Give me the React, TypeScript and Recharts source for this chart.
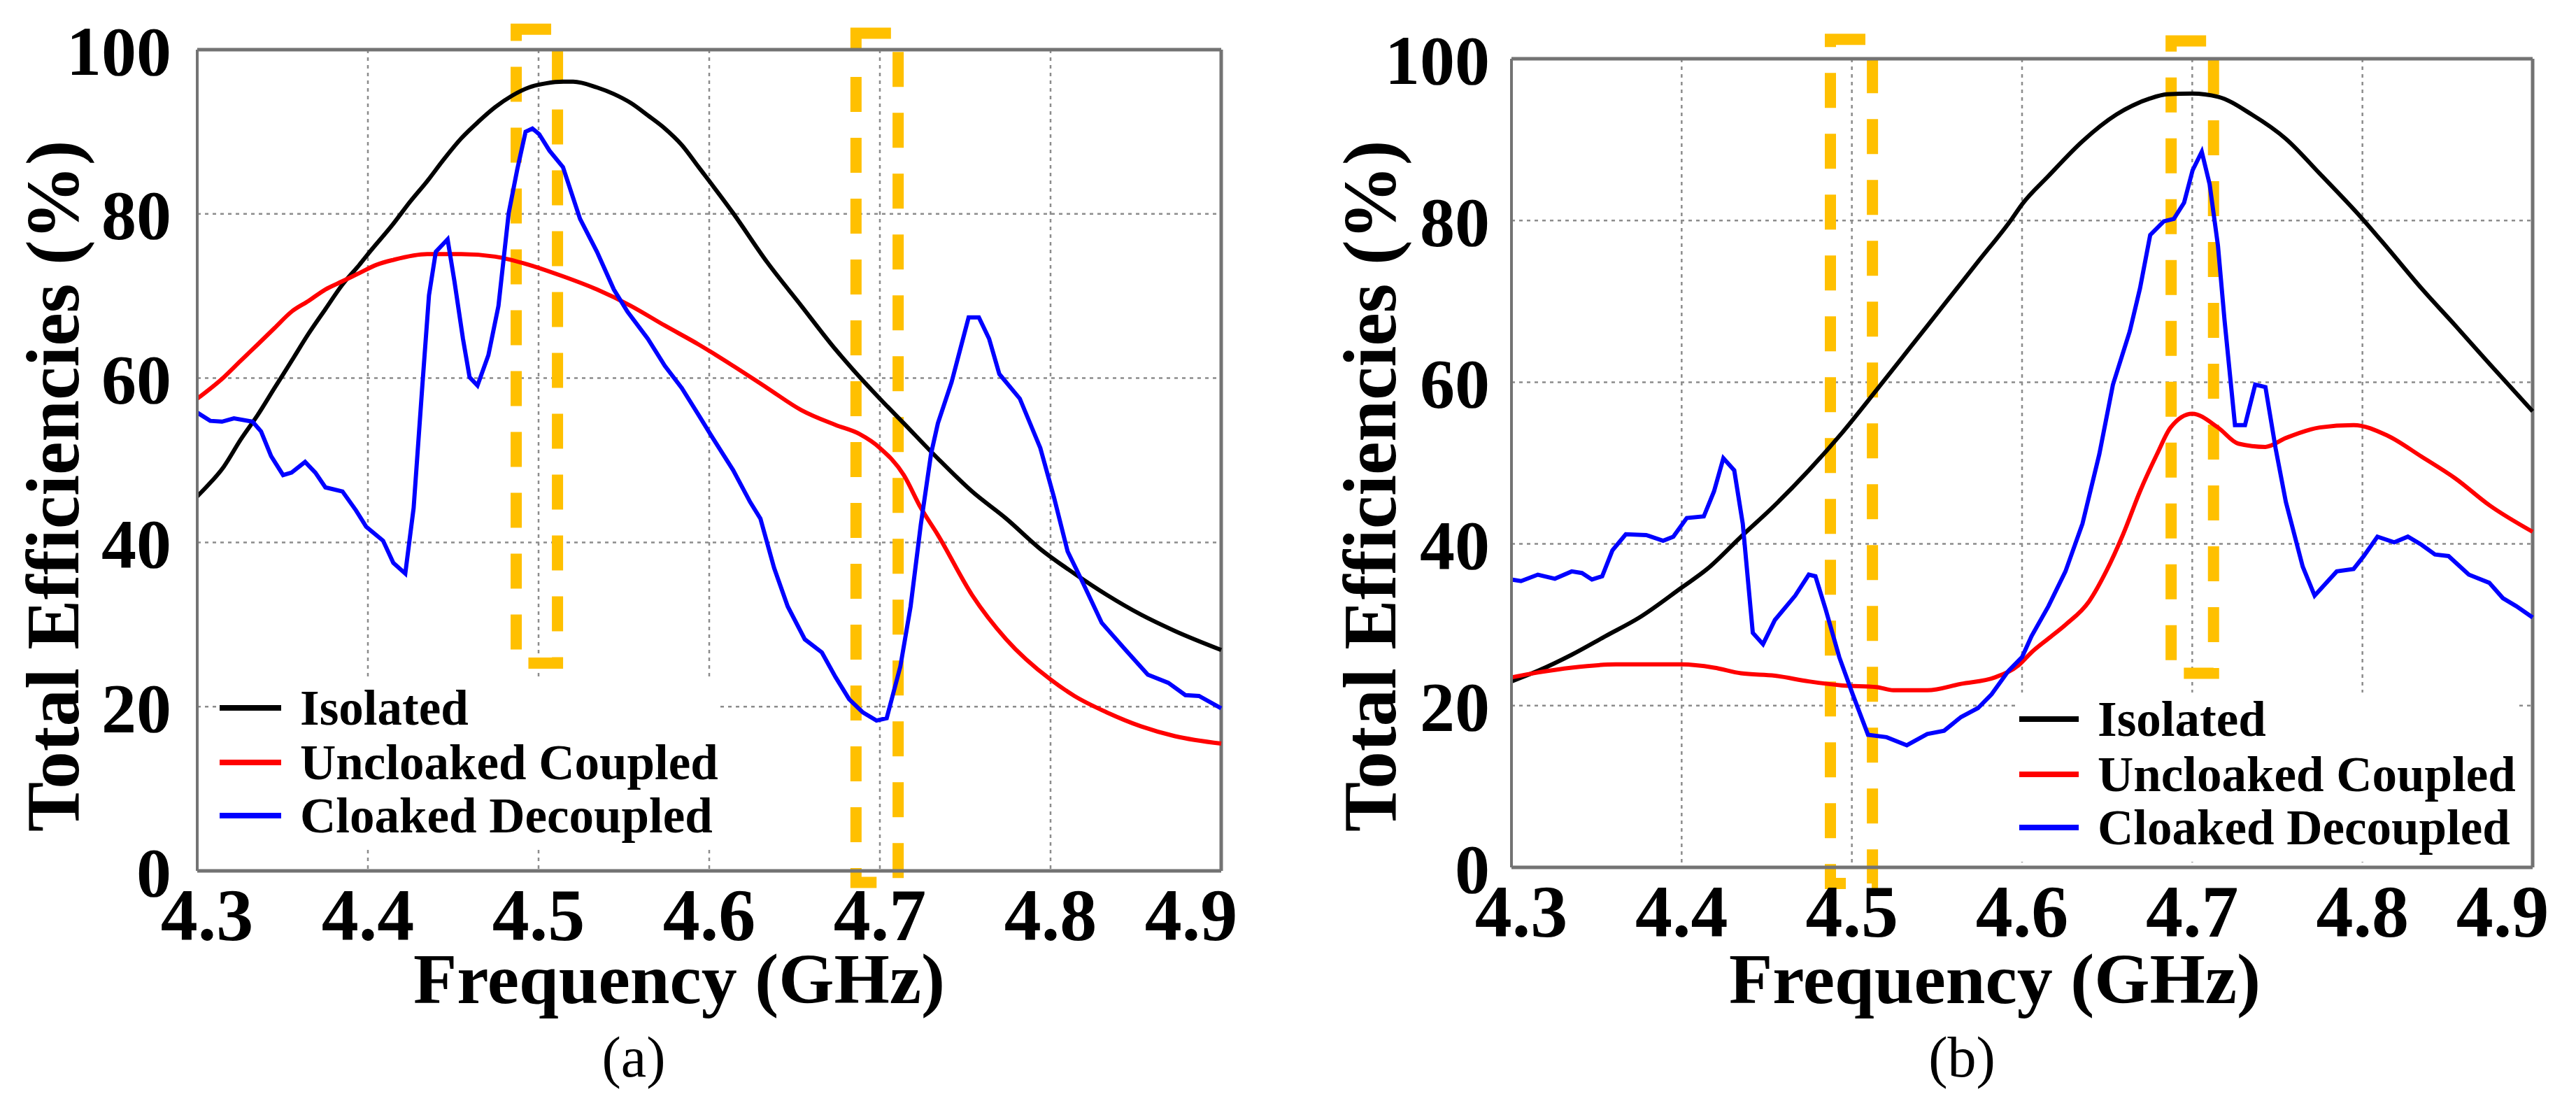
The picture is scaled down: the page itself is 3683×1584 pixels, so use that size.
import React from "react";
import {
  LineChart,
  Line,
  XAxis,
  YAxis,
  CartesianGrid,
  ReferenceArea,
  ReferenceLine,
  Legend,
  Label,
} from "recharts";

const SERIF = '"Liberation Serif", "Times New Roman", serif';

const FREQ_TICKS = [4.3, 4.4, 4.5, 4.6, 4.7, 4.8, 4.9];
const EFF_TICKS = [0, 20, 40, 60, 80, 100];

const SERIES_NAMES = ["Isolated", "Uncloaked Coupled", "Cloaked Decoupled"];
const SERIES_COLORS = ["#000000", "#ff0000", "#0000ff"];

// ---- panel (a) ----
const isoFreqA = [
  4.3, 4.3056, 4.3155, 4.3254, 4.3354, 4.3453, 4.3553, 4.3652, 4.3751, 4.3851, 4.395, 4.4,
  4.4149, 4.4248, 4.4348, 4.4447, 4.4547, 4.4646, 4.4746, 4.4845, 4.4944, 4.5044, 4.5143,
  4.5203, 4.5342, 4.5441, 4.5541, 4.564, 4.574, 4.5839, 4.5938, 4.614, 4.634, 4.654, 4.674,
  4.684, 4.7, 4.714, 4.734, 4.754, 4.774, 4.794, 4.814, 4.833, 4.853, 4.873, 4.9,
];
const isoEffA = [
  45.6, 46.8, 49.2, 52.5, 55.5, 58.8, 62.1, 65.4, 68.4, 71.4, 73.8, 75.1, 78.8, 81.5, 84.0,
  86.7, 89.2, 91.2, 93.0, 94.4, 95.4, 95.9, 96.1, 96.1, 95.4, 94.6, 93.5, 92.0, 90.4, 88.4,
  85.7, 80.1, 74.1, 68.8, 63.5, 61.1, 57.5, 54.5, 50.2, 46.2, 42.9, 39.2, 36.2, 33.6, 31.2,
  29.2, 26.9,
];
const uncFreqA = [
  4.3, 4.3155, 4.3254, 4.3354, 4.3453, 4.3553, 4.3652, 4.3751, 4.3851, 4.395, 4.405, 4.4149,
  4.4348, 4.4547, 4.4746, 4.4944, 4.5143, 4.5342, 4.5541, 4.574, 4.5938, 4.614, 4.634, 4.654,
  4.674, 4.688, 4.7, 4.714, 4.724, 4.734, 4.754, 4.774, 4.8, 4.814, 4.833, 4.853, 4.873, 4.9,
];
const uncEffA = [
  57.5, 60.1, 62.1, 64.1, 66.1, 68.1, 69.4, 70.8, 71.8, 72.8, 73.8, 74.4, 75.1, 75.1, 74.8,
  73.8, 72.4, 70.8, 68.8, 66.4, 64.1, 61.5, 58.8, 56.1, 54.3, 53.2, 51.5, 48.2, 44.2, 40.9,
  33.6, 28.2, 23.3, 21.3, 19.3, 17.6, 16.4, 15.5,
];
const clkFreqA = [
  4.3, 4.3076, 4.3145, 4.3215, 4.3324, 4.3374, 4.3433, 4.3503, 4.3553, 4.3632, 4.3692, 4.3751,
  4.3851, 4.393, 4.399, 4.4089, 4.4149, 4.4219, 4.4268, 4.4318, 4.4358, 4.4398, 4.4467,
  4.4507, 4.4557, 4.4596, 4.4642, 4.4706, 4.4765, 4.4825, 4.4875, 4.4924, 4.4964, 4.5004,
  4.5064, 4.5143, 4.5243, 4.5342, 4.5441, 4.5521, 4.564, 4.574, 4.5839, 4.5938, 4.6018, 4.614,
  4.624, 4.63, 4.638, 4.646, 4.656, 4.666, 4.674, 4.682, 4.69, 4.698, 4.704, 4.712, 4.718,
  4.724, 4.73, 4.734, 4.742, 4.752, 4.758, 4.764, 4.77, 4.782, 4.794, 4.802, 4.81, 4.818, 4.83,
  4.844, 4.857, 4.869, 4.879, 4.887, 4.9,
];
const clkEffA = [
  55.8, 54.8, 54.7, 55.1, 54.7, 53.5, 50.5, 48.2, 48.5, 49.8, 48.5, 46.7, 46.2, 43.9, 41.9,
  40.2, 37.5, 36.2, 44.2, 58.8, 70.1, 75.4, 76.9, 71.8, 64.8, 60.1, 59.1, 62.8, 68.8, 80.1,
  85.4, 90.0, 90.4, 89.7, 87.7, 85.7, 79.4, 75.4, 70.8, 68.1, 64.8, 61.5, 58.8, 55.5, 52.8,
  48.8, 44.9, 42.9, 36.9, 32.2, 28.2, 26.6, 23.6, 20.9, 19.3, 18.3, 18.6, 24.9, 32.2, 42.2,
  50.8, 54.5, 59.5, 67.4, 67.4, 64.8, 60.5, 57.5, 51.5, 45.5, 38.9, 35.5, 30.2, 26.9, 23.9,
  22.9, 21.4, 21.3, 19.8,
];
// highlighted frequency windows (GHz) and their vertical extent (%)
const boxFreqA = [
  [4.4869, 4.5111],
  [4.686, 4.7107],
];
const boxEffA = [
  [25.3, 102.5],
  [-1.4, 102.0],
];

// ---- panel (b) ----
const isoFreqB = [
  4.3, 4.3155, 4.3354, 4.3553, 4.3752, 4.4, 4.415, 4.4349, 4.4548, 4.4747, 4.4945, 4.5144,
  4.5343, 4.5542, 4.5741, 4.594, 4.6, 4.6155, 4.6355, 4.6554, 4.6753, 4.6853, 4.7, 4.7151,
  4.735, 4.755, 4.7749, 4.8, 4.8147, 4.8347, 4.8546, 4.8745, 4.9,
];
const isoEffB = [
  23.0, 24.3, 26.3, 28.6, 30.9, 34.6, 36.9, 40.9, 44.8, 49.1, 53.8, 59.0, 64.3, 69.6, 74.9,
  80.2, 82.0, 85.5, 89.8, 93.1, 95.1, 95.6, 95.7, 95.3, 93.1, 90.1, 85.8, 80.2, 76.6, 71.6,
  67.0, 62.3, 56.4,
];
const uncFreqB = [
  4.3, 4.3155, 4.3354, 4.3613, 4.4, 4.419, 4.4349, 4.4548, 4.4747, 4.4945, 4.5144, 4.5244,
  4.5443, 4.5642, 4.5841, 4.598, 4.6056, 4.6155, 4.6255, 4.6394, 4.6494, 4.6594, 4.6693,
  4.6793, 4.6873, 4.7, 4.7151, 4.7271, 4.743, 4.755, 4.7749, 4.7948, 4.8147, 4.8347, 4.8546,
  4.8745, 4.9,
];
const uncEffB = [
  23.5, 24.1, 24.7, 25.1, 25.1, 24.7, 24.0, 23.7, 23.0, 22.5, 22.3, 21.9, 21.9, 22.7, 23.5,
  25.0, 26.6, 28.3, 30.0, 32.9, 36.6, 41.2, 46.5, 51.1, 54.4, 56.1, 54.4, 52.4, 52.0, 53.1,
  54.4, 54.7, 53.4, 50.8, 48.1, 44.8, 41.5,
];
const clkFreqB = [
  4.3, 4.3056, 4.3155, 4.3255, 4.3354, 4.3414, 4.3473, 4.3533, 4.3593, 4.3672, 4.3792, 4.3891,
  4.3951, 4.403, 4.413, 4.419, 4.4245, 4.4309, 4.4359, 4.4418, 4.4478, 4.4548, 4.4667,
  4.4747, 4.4786, 4.4846, 4.4926, 4.5005, 4.5095, 4.5204, 4.5323, 4.5443, 4.5542, 4.5642,
  4.5741, 4.5821, 4.592, 4.6, 4.6056, 4.6155, 4.6255, 4.6355, 4.6454, 4.6534, 4.6633, 4.6693,
  4.6753, 4.6833, 4.6892, 4.6952, 4.7002, 4.7056, 4.7102, 4.7151, 4.719, 4.7251, 4.731, 4.737,
  4.743, 4.749, 4.755, 4.7649, 4.7719, 4.7849, 4.7948, 4.8008, 4.8088, 4.8187, 4.8267, 4.8347,
  4.8426, 4.8506, 4.8625, 4.8745, 4.8825, 4.8904, 4.9,
];
const clkEffB = [
  35.6, 35.4, 36.2, 35.7, 36.6, 36.4, 35.6, 36.0, 39.2, 41.2, 41.1, 40.4, 40.9, 43.2, 43.4,
  46.5, 50.6, 49.1, 42.5, 29.0, 27.6, 30.6, 33.6, 36.2, 36.0, 31.9, 26.0, 21.4, 16.4, 16.1,
  15.1, 16.5, 16.9, 18.6, 19.7, 21.4, 24.3, 26.0, 28.6, 32.3, 36.6, 42.5, 51.1, 59.7, 66.3,
  71.6, 78.2, 79.9, 80.2, 82.2, 86.2, 88.5, 84.5, 76.9, 67.6, 54.7, 54.7, 59.7, 59.4, 51.8,
  45.2, 37.2, 33.6, 36.6, 36.9, 38.5, 40.9, 40.2, 40.9, 39.9, 38.7, 38.5, 36.2, 35.2, 33.3,
  32.3, 30.9,
];
const boxFreqB = [
  [4.4874, 4.5121],
  [4.6876, 4.7125],
];
const boxEffB = [
  [-2.0, 102.4],
  [24.0, 102.2],
];

const zip = (fs: number[], vs: number[]) => fs.map((f, i) => ({ f, v: vs[i] }));

const GRID = "#8c8c8c";
const FRAME = "#737373";
const BOX = "#ffc000";

interface PanelCfg {
  left: number;
  width: number;
  yAxisWidth: number;
  top: number;
  right: number;
  xAxisHeight: number;
  yTickGap: number;
  legend: { x: number; y: number; w: number; h: number; lineX: number; lineW: number; textX: number; rows: number[] };
  yTitle: { x: number; y: number };
  xTitle: { x: number; y: number };
  caption: { x: number; y: number; text: string };
  series: { f: number; v: number }[][];
  boxFreq: number[][];
  boxEff: number[][];
}

// all x positions below are page pixels; the panel subtracts its own left edge
const panels: PanelCfg[] = [
  {
    left: 0,
    width: 1840,
    yAxisWidth: 282,
    top: 71,
    right: 94,
    xAxisHeight: 339,
    yTickGap: 37,
    legend: { x: 310, y: 968, w: 719, h: 245, lineX: 4, lineW: 88, textX: 119, rows: [44, 122, 198] },
    yTitle: { x: 112, y: 695 },
    xTitle: { x: 971, y: 1434 },
    caption: { x: 906, y: 1512, text: "(a)" },
    series: [zip(isoFreqA, isoEffA), zip(uncFreqA, uncEffA), zip(clkFreqA, clkEffA)],
    boxFreq: boxFreqA,
    boxEff: boxEffA,
  },
  {
    left: 1840,
    width: 1843,
    yAxisWidth: 321,
    top: 84,
    right: 62,
    xAxisHeight: 344,
    yTickGap: 31,
    legend: { x: 2887, y: 990, w: 713, h: 242, lineX: 0, lineW: 85, textX: 112, rows: [38, 117, 193] },
    yTitle: { x: 1995, y: 695 },
    xTitle: { x: 2852, y: 1434 },
    caption: { x: 2805, y: 1512, text: "(b)" },
    series: [zip(isoFreqB, isoEffB), zip(uncFreqB, uncEffB), zip(clkFreqB, clkEffB)],
    boxFreq: boxFreqB,
    boxEff: boxEffB,
  },
];

function LegendBox({ cfg }: { cfg: PanelCfg["legend"] }) {
  return (
    <div
      style={{
        width: cfg.w,
        height: cfg.h,
        background: "#fff",
        position: "relative",
        fontFamily: SERIF,
        fontWeight: 700,
        fontSize: 71,
        color: "#000",
      }}
    >
      {SERIES_NAMES.map((name, i) => (
        <div
          key={name}
          style={{
            position: "absolute",
            left: 0,
            top: cfg.rows[i] - 40,
            height: 80,
            display: "flex",
            alignItems: "center",
            whiteSpace: "nowrap",
          }}
        >
          <span
            style={{
              display: "inline-block",
              width: cfg.lineW,
              height: 8,
              background: SERIES_COLORS[i],
              marginLeft: cfg.lineX,
              marginRight: cfg.textX - cfg.lineX - cfg.lineW,
            }}
          />
          <span style={{ lineHeight: 1 }}>{name}</span>
        </div>
      ))}
    </div>
  );
}

// the outer frequency labels sit a little inside the plot edges
const FreqTick = (props: any) => {
  const { x, y, payload, index } = props;
  const shift = index === 0 ? 14 : index === FREQ_TICKS.length - 1 ? -43 : 0;
  return (
    <text
      x={x + shift}
      y={y}
      dy={76}
      textAnchor="middle"
      fontFamily={SERIF}
      fontWeight={700}
      fontSize={106}
      fill="#000"
    >
      {Number(payload.value).toFixed(1)}
    </text>
  );
};

function Panel({ cfg }: { cfg: PanelCfg }) {
  const ox = cfg.left;
  return (
    <div style={{ position: "absolute", left: ox, top: 0, width: cfg.width, height: 1584 }}>
      <LineChart
        width={cfg.width}
        height={1584}
        margin={{ top: cfg.top, right: cfg.right, left: 0, bottom: 0 }}
      >
        <CartesianGrid stroke={GRID} strokeWidth={2.5} strokeDasharray="5 6" />
        <XAxis
          type="number"
          dataKey="f"
          domain={[4.3, 4.9]}
          ticks={FREQ_TICKS}
          height={cfg.xAxisHeight}
          tickLine={false}
          tickSize={0}
          tickMargin={23}
          axisLine={{ stroke: FRAME, strokeWidth: 5 }}
          tick={<FreqTick />}
          interval={0}
        >
          <Label
            content={() => (
              <text
                x={cfg.xTitle.x - ox}
                y={cfg.xTitle.y}
                textAnchor="middle"
                fontFamily={SERIF}
                fontWeight={700}
                fontSize={102}
                fill="#000"
              >
                Frequency (GHz)
              </text>
            )}
          />
        </XAxis>
        <YAxis
          type="number"
          domain={[0, 100]}
          ticks={EFF_TICKS}
          width={cfg.yAxisWidth}
          tickLine={false}
          tickSize={0}
          tickMargin={cfg.yTickGap}
          axisLine={{ stroke: FRAME, strokeWidth: 4 }}
          tick={{ fontFamily: SERIF, fontWeight: 700, fill: "#000", fontSize: 100 }}
          interval={0}
        >
          <Label
            content={() => (
              <text
                x={cfg.yTitle.x - ox}
                y={cfg.yTitle.y}
                transform={`rotate(-90 ${cfg.yTitle.x - ox} ${cfg.yTitle.y})`}
                textAnchor="middle"
                fontFamily={SERIF}
                fontWeight={700}
                fontSize={107}
                fill="#000"
              >
                Total Efficiencies (%)
              </text>
            )}
          />
        </YAxis>
        <ReferenceLine y={100} stroke={FRAME} strokeWidth={5} />
        <ReferenceLine x={4.9} stroke={FRAME} strokeWidth={5} />
        {cfg.series.map((data, i) => (
          <Line
            key={SERIES_NAMES[i]}
            data={data}
            dataKey="v"
            name={SERIES_NAMES[i]}
            type={i === 2 ? "linear" : "monotone"}
            stroke={SERIES_COLORS[i]}
            strokeWidth={6}
            dot={false}
            isAnimationActive={false}
          />
        ))}
        {cfg.boxFreq.map((fr, i) => (
          <ReferenceArea
            key={i}
            x1={fr[0]}
            x2={fr[1]}
            y1={cfg.boxEff[i][0]}
            y2={cfg.boxEff[i][1]}
            ifOverflow="visible"
            fill="none"
            fillOpacity={0}
            stroke={BOX}
            strokeWidth={16}
            strokeDasharray="50 37"
          />
        ))}
        <Legend
          layout="vertical"
          align="center"
          verticalAlign="middle"
          content={() => <LegendBox cfg={cfg.legend} />}
          wrapperStyle={{
            left: cfg.legend.x - ox,
            top: cfg.legend.y,
            width: cfg.legend.w,
            height: cfg.legend.h,
          }}
        />
      </LineChart>
      <div
        style={{
          position: "absolute",
          left: cfg.caption.x - ox - 100,
          top: cfg.caption.y - 50,
          width: 200,
          height: 100,
          lineHeight: "100px",
          textAlign: "center",
          fontFamily: SERIF,
          fontSize: 82,
          color: "#000",
        }}
      >
        {cfg.caption.text}
      </div>
    </div>
  );
}

export default function App() {
  return (
    <div
      style={{
        position: "absolute",
        left: 0,
        top: 0,
        width: 3683,
        height: 1584,
        background: "#fff",
        overflow: "hidden",
      }}
    >
      {panels.map((p, i) => (
        <Panel key={i} cfg={p} />
      ))}
    </div>
  );
}
